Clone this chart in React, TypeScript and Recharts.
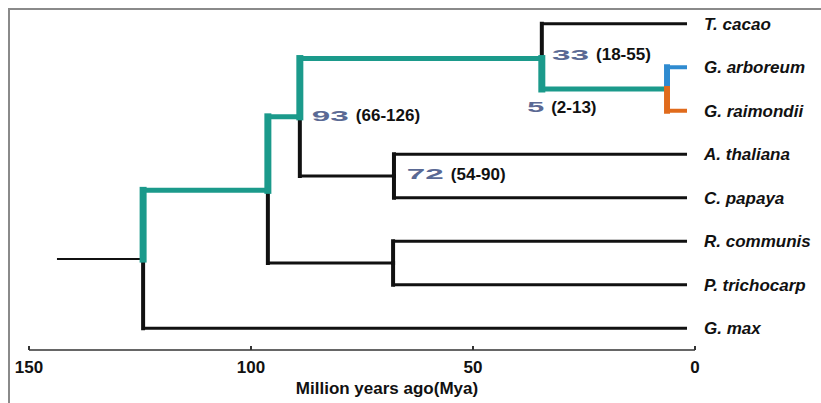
import { ComposedChart, Line, Scatter, XAxis, YAxis, Label } from 'recharts'

// tip names, top to bottom
const TAXA = ['T. cacao', 'G. arboreum', 'G. raimondii', 'A. thaliana', 'C. papaya', 'R. communis', 'P. trichocarp', 'G. max']
const TIP_AGE = 1.8
const ROOT_STUB_AGE = 143.7

// internal nodes (age in Mya, row on the taxa scale)
const NODE_IDS = ['root', 'n96', 'n89', 'n34', 'n6', 'n68a', 'n68b']
const NODE_AGES = [124.3, 96.2, 89, 34.5, 6.3, 67.8, 68]
const NODE_ROWS = [5.41, 3.83, 2.14, 0.8, 1.5, 3.5, 5.5]

// parent, child, group
const EDGES: [string, string, string][] = [
  ['root', 'G. max', 'plain'],
  ['n96', 'n68b', 'plain'],
  ['n68b', 'R. communis', 'plain'],
  ['n68b', 'P. trichocarp', 'plain'],
  ['n89', 'n68a', 'plain'],
  ['n68a', 'A. thaliana', 'plain'],
  ['n68a', 'C. papaya', 'plain'],
  ['n34', 'T. cacao', 'plain'],
  ['root', 'n96', 'hl'],
  ['n96', 'n89', 'hl'],
  ['n89', 'n34', 'hl'],
  ['n34', 'n6', 'hl'],
  ['n6', 'G. arboreum', 'ga'],
  ['n6', 'G. raimondii', 'gr'],
]

// divergence time estimates
const EST_VALUES = ['93', '33', '5', '72']
const EST_RANGES = ['(66-126)', '(18-55)', '(2-13)', '(54-90)']
const EST_AGES = [86.3, 32.2, 37.8, 64.9]
const EST_ROWS = [2.1, 0.7, 1.91, 3.45]

const TIME_TICKS = [0, 50, 100, 150]

const STYLE: Record<string, { color: string; v: number; h: number }> = {
  plain: { color: '#111111', v: 4, h: 2.8 },
  hl: { color: '#1b9a8b', v: 7, h: 5 },
  ga: { color: '#2f8bd0', v: 6, h: 4 },
  gr: { color: '#e06b1c', v: 6, h: 4 },
}

const FONT = '"Liberation Sans", Arial, sans-serif'

function pos(id: string) {
  const i = NODE_IDS.indexOf(id)
  if (i >= 0) return { age: NODE_AGES[i], row: NODE_ROWS[i] }
  return { age: TIP_AGE, row: TAXA.indexOf(id) }
}

const segments = EDGES.flatMap(([from, to, group], i) => {
  const p = pos(from)
  const c = pos(to)
  return [
    { key: `v${i}`, group, dir: 'v', data: [{ x: p.age, y: p.row }, { x: p.age, y: c.row }] },
    { key: `h${i}`, group, dir: 'h', data: [{ x: p.age, y: c.row }, { x: c.age, y: c.row }] },
  ]
})

const rootPos = pos('root')
const stubData = [{ x: ROOT_STUB_AGE, y: rootPos.row }, { x: rootPos.age, y: rootPos.row }]

const estData = EST_VALUES.map((v, i) => ({ x: EST_AGES[i], y: EST_ROWS[i], est: v, range: EST_RANGES[i] }))

const EstLabel = (props: any) => {
  const { cx, cy, payload } = props
  const w = payload.est.length * 20 - 3
  return (
    <g>
      <text x={cx} y={cy + 5.5} fontSize={15} fontWeight="bold" fill="#5a6994" textLength={w} lengthAdjust="spacingAndGlyphs" fontFamily={FONT}>
        {payload.est}
      </text>
      <text x={cx + w + 7} y={cy + 6} fontSize={17} fontWeight="bold" fill="#111" fontFamily={FONT}>
        {payload.range}
      </text>
    </g>
  )
}

const TimeTick = (props: any) => {
  const { x, y, payload } = props
  return (
    <g>
      <line x1={x} y1={y} x2={x} y2={y - 4} stroke="#333" strokeWidth={2} />
      <text x={x} y={y + 23} textAnchor="middle" fontSize={17} fontWeight="bold" fill="#111" fontFamily={FONT}>
        {payload.value}
      </text>
    </g>
  )
}

const TaxonTick = (props: any) => {
  const { x, y, payload } = props
  return (
    <text x={x} y={y + 6} fontSize={17} fontStyle="italic" fontWeight="bold" fill="#111" fontFamily={FONT}>
      {TAXA[payload.value]}
    </text>
  )
}

const AxisTitle = (props: any) => {
  const vb = props.viewBox
  return (
    <text x={vb.x + vb.width / 2 + 25} y={vb.y + 44} textAnchor="middle" fontSize={17} fontWeight="bold" fill="#111" fontFamily={FONT}>
      Million years ago(Mya)
    </text>
  )
}

export default function App() {
  return (
    <div style={{ position: 'absolute', left: 0, top: 0, width: 821, height: 403, background: '#fff' }}>
      <div
        style={{
          position: 'absolute',
          left: 8,
          top: 8,
          width: 813,
          height: 395,
          borderTop: '2px solid #8a8a8a',
          borderLeft: '2px solid #8a8a8a',
        }}
      />
      <ComposedChart width={821} height={403} margin={{ top: 2, right: 0, bottom: 0, left: 29 }} style={{ position: 'absolute', left: 0, top: 0 }}>
        <XAxis
          dataKey="x"
          type="number"
          domain={[0, 150]}
          reversed
          ticks={TIME_TICKS}
          interval={0}
          height={53}
          tickSize={0}
          tickMargin={0}
          tick={<TimeTick />}
          axisLine={{ stroke: '#333', strokeWidth: 1.5 }}
          allowDataOverflow
        >
          <Label content={<AxisTitle />} />
        </XAxis>
        <YAxis
          orientation="right"
          type="number"
          domain={[-0.5, 7.5]}
          reversed
          ticks={[0, 1, 2, 3, 4, 5, 6, 7]}
          interval={0}
          width={126}
          tickSize={0}
          tickMargin={9}
          axisLine={false}
          tickLine={false}
          tick={<TaxonTick />}
          allowDataOverflow
        />
        <Line
          data={stubData}
          dataKey="y"
          stroke="#111"
          strokeWidth={2}
          dot={false}
          activeDot={false}
          isAnimationActive={false}
        />
        {segments.map((s) => (
          <Line
            key={s.key}
            data={s.data}
            dataKey="y"
            stroke={STYLE[s.group].color}
            strokeWidth={s.dir === 'v' ? STYLE[s.group].v : STYLE[s.group].h}
            strokeLinecap={s.dir === 'v' ? 'square' : 'butt'}
            dot={false}
            activeDot={false}
            isAnimationActive={false}
          />
        ))}
        <Scatter data={estData} dataKey="y" shape={<EstLabel />} isAnimationActive={false} />
      </ComposedChart>
    </div>
  )
}
